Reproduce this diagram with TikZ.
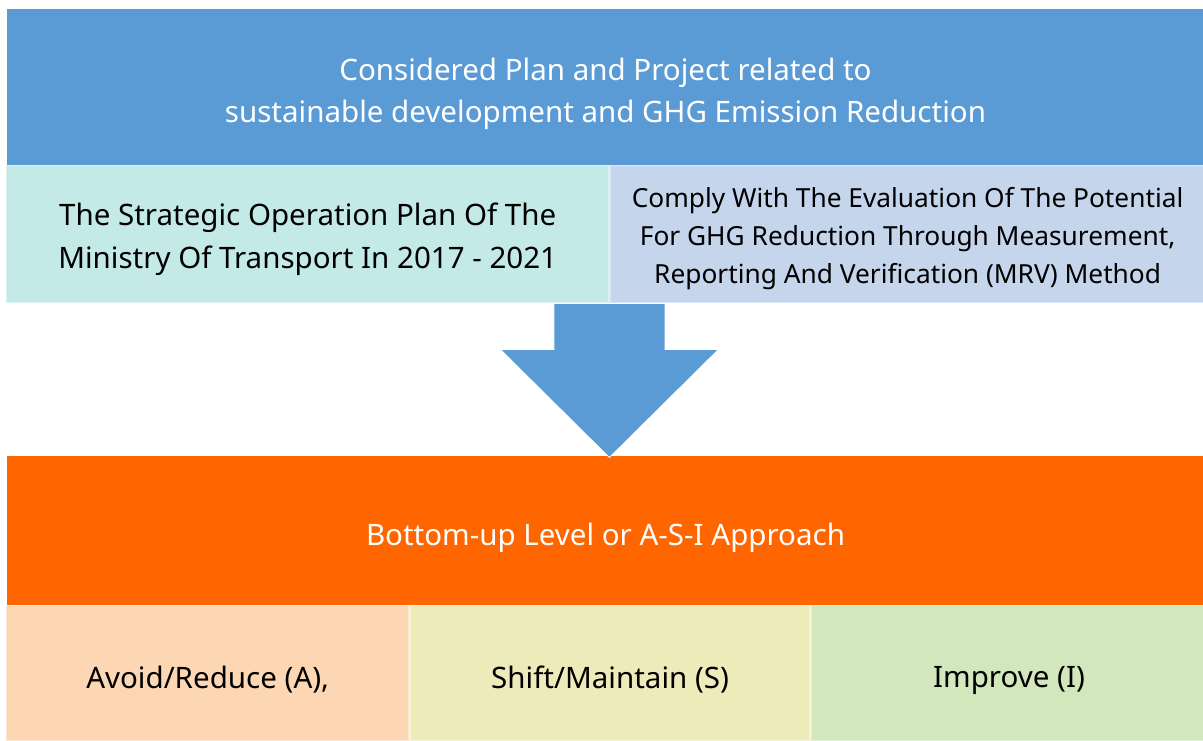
\documentclass[tikz,border=0pt]{standalone}
\usepackage{fontspec}
\setmainfont{Noto Sans}
\usetikzlibrary{calc}
\definecolor{planblue}{RGB}{91,155,213}
\definecolor{plancyan}{RGB}{196,234,232}
\definecolor{plangrey}{RGB}{197,214,236}
\definecolor{asiorange}{RGB}{255,102,0}
\definecolor{avoidpeach}{RGB}{253,215,180}
\definecolor{shiftyellow}{RGB}{237,235,185}
\definecolor{improvegreen}{RGB}{211,231,189}
\newcommand{\linestrut}[1][25pt]{\rule{0pt}{#1}}

\begin{document}
\begin{tikzpicture}[
    box/.style={rectangle, line width=1pt, inner sep=0pt, align=center, font=\fontsize{21}{30.5}\selectfont,
        execute at begin node={\linestrut}},
    subbox/.style={box, text=black, minimum height=3.425cm},
    asibox/.style={box, text=black, minimum height=3.375cm}
]
    \useasboundingbox (0,0) rectangle (30.075,-18.5);

    \node[box, fill=planblue, draw=planblue, text=white, minimum width=29.875cm, minimum height=3.875cm] (plan) at (15.1375,-2.1875) {\linestrut Considered Plan and Project related to\\sustainable development and GHG Emission Reduction};
    \node[subbox, fill=plancyan, draw=plancyan!60!white, minimum width=15.05cm, anchor=north west] (strategic) at (0.15,-4.125) {\linestrut[23pt]The Strategic Operation Plan Of The\\Ministry Of Transport In 2017 - 2021};
    \node[subbox, fill=plangrey, draw=plangrey!60!white, minimum width=14.875cm, anchor=north west, font=\fontsize{18.7}{27}\selectfont] (mrv) at (strategic.north east) {\linestrut[20pt]Comply With The Evaluation Of The Potential\\For GHG Reduction Through Measurement,\\Reporting And Verification (MRV) Method};

    \node[box, fill=asiorange, draw=asiorange, text=white, minimum width=29.875cm, minimum height=3.7cm] (asi) at (15.1375,-13.275) {Bottom-up Level or A-S-I Approach};
    \node[asibox, fill=avoidpeach, draw=avoidpeach!60!white, minimum width=10.05cm, anchor=north west] (avoid) at (0.15,-15.125) {Avoid/Reduce (A),};
    \node[asibox, fill=shiftyellow, draw=shiftyellow!60!white, minimum width=10cm, anchor=north west] (shift) at (avoid.north east) {Shift/Maintain (S)};
    \node[asibox, fill=improvegreen, draw=improvegreen!60!white, minimum width=9.875cm, anchor=north west] (improve) at (shift.north east) {Improve (I)};

    % block arrow from the plans down to the approach
    \fill[planblue, draw=white, line width=0.5pt] ($(strategic.south east)+(-1.3875,0)$) -- ++(0,-1.15) -- ++(-1.3375,0)
        -- ($(strategic.south east |- asi.north)+(0,-0.03)$)
        -- ($(strategic.south east)+(5.45/2,-1.15)$) -- ++(-1.3375,0) -- ($(strategic.south east)+(1.3875,0)$) -- cycle;
\end{tikzpicture}
\end{document}
